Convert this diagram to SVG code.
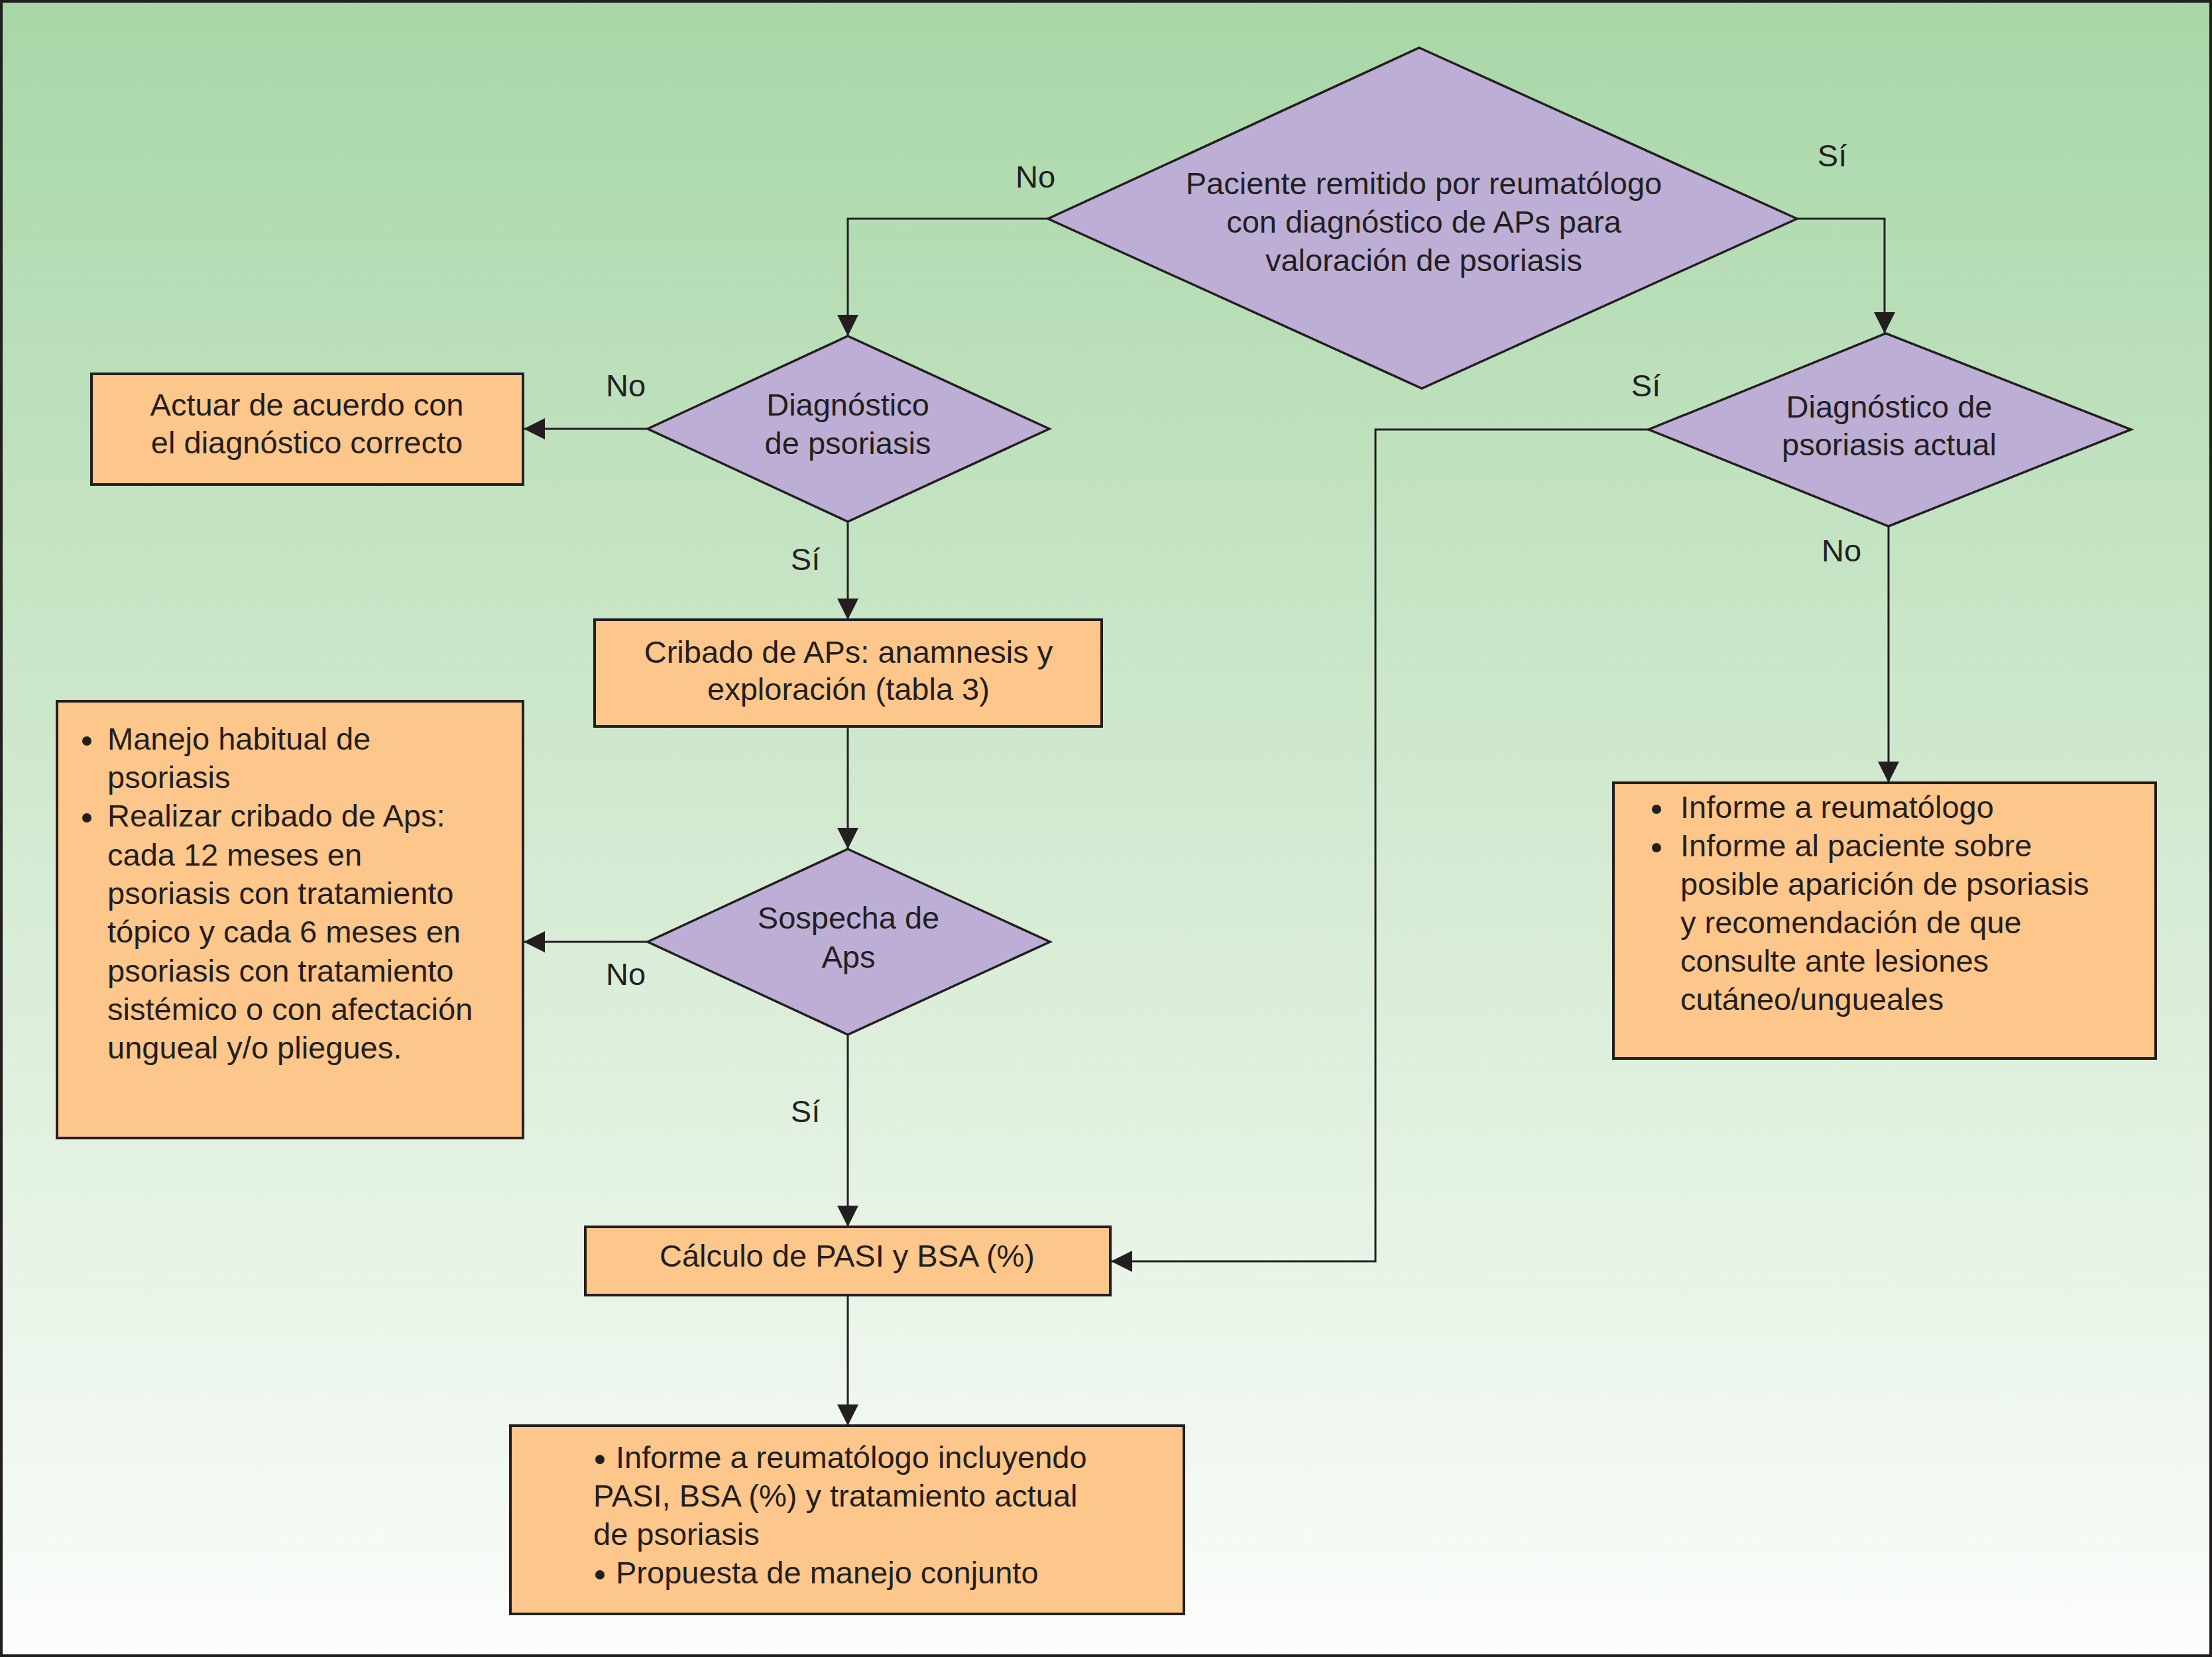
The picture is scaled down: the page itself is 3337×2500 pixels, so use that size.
<svg xmlns="http://www.w3.org/2000/svg" width="3337" height="2500" viewBox="0 0 3337 2500">
<defs>
<linearGradient id="bg" x1="0" y1="0" x2="0" y2="1">
<stop offset="0" stop-color="#a8d7a7"/>
<stop offset="0.45" stop-color="#cfe8cd"/>
<stop offset="1" stop-color="#fbfdfb"/>
</linearGradient>
<marker id="arr" markerUnits="userSpaceOnUse" markerWidth="32" markerHeight="32" viewBox="0 0 32 32" refX="32" refY="16" orient="auto"><path d="M0,0 L32,16 L0,32 z" fill="#231f20"/></marker>
</defs>
<style>
.box{fill:#fdc68a;stroke:#231f20;stroke-width:4}
.dia{fill:#bdaed5;stroke:#231f20;stroke-width:3.5;stroke-linejoin:miter}
.con{fill:none;stroke:#231f20;stroke-width:3;marker-end:url(#arr)}
text{font-family:"Liberation Sans",Arial,sans-serif;font-size:47px;fill:#231f20}
.c{text-anchor:middle}
.bul{fill:#231f20}
</style>
<rect x="2" y="2" width="3333" height="2496" fill="url(#bg)" stroke="#231f20" stroke-width="4"/>

<g id="connectors">
<path class="con" d="M1581,330 H1279 V507"/>
<path class="con" d="M2711,330 H2843 V503"/>
<path class="con" d="M977,647 H790"/>
<path class="con" d="M1279,787 V935"/>
<path class="con" d="M1279,1096 V1281"/>
<path class="con" d="M977,1421 H790"/>
<path class="con" d="M1279,1561 V1851"/>
<path class="con" d="M1279,1954 V2151"/>
<path class="con" d="M2487,648 H2075 V1903 H1676"/>
<path class="con" d="M2849,794 V1181"/>
<text class="c" x="1562" y="283">No</text>
<text class="c" x="2764" y="251">Sí</text>
<text class="c" x="944" y="598">No</text>
<text class="c" x="1215" y="860">Sí</text>
<text class="c" x="944" y="1486">No</text>
<text class="c" x="1215" y="1693">Sí</text>
<text class="c" x="2483" y="598">Sí</text>
<text class="c" x="2778" y="847">No</text>
</g>

<g id="n_remitido">
<polygon class="dia" points="2141,72 2711,330 2145,586 1581,330"/>
<text class="c" x="2148" y="293">Paciente remitido por reumatólogo</text>
<text class="c" x="2148" y="351">con diagnóstico de APs para</text>
<text class="c" x="2148" y="409">valoración de psoriasis</text>
</g>

<g id="n_diag_psoriasis">
<polygon class="dia" points="1279,507 1583,647 1279,787 977,647"/>
<text class="c" x="1279" y="627">Diagnóstico</text>
<text class="c" x="1279" y="685">de psoriasis</text>
</g>

<g id="n_actuar">
<rect class="box" x="138" y="564" width="651" height="167"/>
<text class="c" x="463" y="627">Actuar de acuerdo con</text>
<text class="c" x="463" y="684">el diagnóstico correcto</text>
</g>

<g id="n_cribado">
<rect class="box" x="897" y="935" width="765" height="161"/>
<text class="c" x="1280" y="1000">Cribado de APs: anamnesis y</text>
<text class="c" x="1280" y="1056">exploración (tabla 3)</text>
</g>

<g id="n_sospecha">
<polygon class="dia" points="1279,1281 1584,1421 1279,1561 977,1421"/>
<text class="c" x="1280" y="1401">Sospecha de</text>
<text class="c" x="1280" y="1460">Aps</text>
</g>

<g id="n_manejo">
<rect class="box" x="86" y="1058" width="703" height="659"/>
<circle class="bul" cx="131" cy="1118" r="7"/>
<circle class="bul" cx="131" cy="1234" r="7"/>
<text x="162" y="1131">Manejo habitual de</text>
<text x="162" y="1189">psoriasis</text>
<text x="162" y="1247">Realizar cribado de Aps:</text>
<text x="162" y="1306">cada 12 meses en</text>
<text x="162" y="1364">psoriasis con tratamiento</text>
<text x="162" y="1422">tópico y cada 6 meses en</text>
<text x="162" y="1481">psoriasis con tratamiento</text>
<text x="162" y="1539">sistémico o con afectación</text>
<text x="162" y="1597">ungueal y/o pliegues.</text>
</g>

<g id="n_calculo">
<rect class="box" x="883" y="1851" width="792" height="103"/>
<text class="c" x="1278" y="1911">Cálculo de PASI y BSA (%)</text>
</g>

<g id="n_informe_final">
<rect class="box" x="770" y="2151" width="1016" height="284"/>
<circle class="bul" cx="905" cy="2202" r="7"/>
<circle class="bul" cx="905" cy="2376" r="7"/>
<text x="929" y="2215">Informe a reumatólogo incluyendo</text>
<text x="895" y="2273">PASI, BSA (%) y tratamiento actual</text>
<text x="895" y="2331">de psoriasis</text>
<text x="929" y="2389">Propuesta de manejo conjunto</text>
</g>

<g id="n_diag_actual">
<polygon class="dia" points="2845,503 3215,648 2849,794 2487,648"/>
<text class="c" x="2850" y="630">Diagnóstico de</text>
<text class="c" x="2850" y="687">psoriasis actual</text>
</g>

<g id="n_informe">
<rect class="box" x="2434" y="1181" width="818" height="416"/>
<circle class="bul" cx="2499" cy="1221" r="7"/>
<circle class="bul" cx="2499" cy="1279" r="7"/>
<text x="2535" y="1234">Informe a reumatólogo</text>
<text x="2535" y="1292">Informe al paciente sobre</text>
<text x="2535" y="1350">posible aparición de psoriasis</text>
<text x="2535" y="1408">y recomendación de que</text>
<text x="2535" y="1466">consulte ante lesiones</text>
<text x="2535" y="1524">cutáneo/ungueales</text>
</g>
</svg>
